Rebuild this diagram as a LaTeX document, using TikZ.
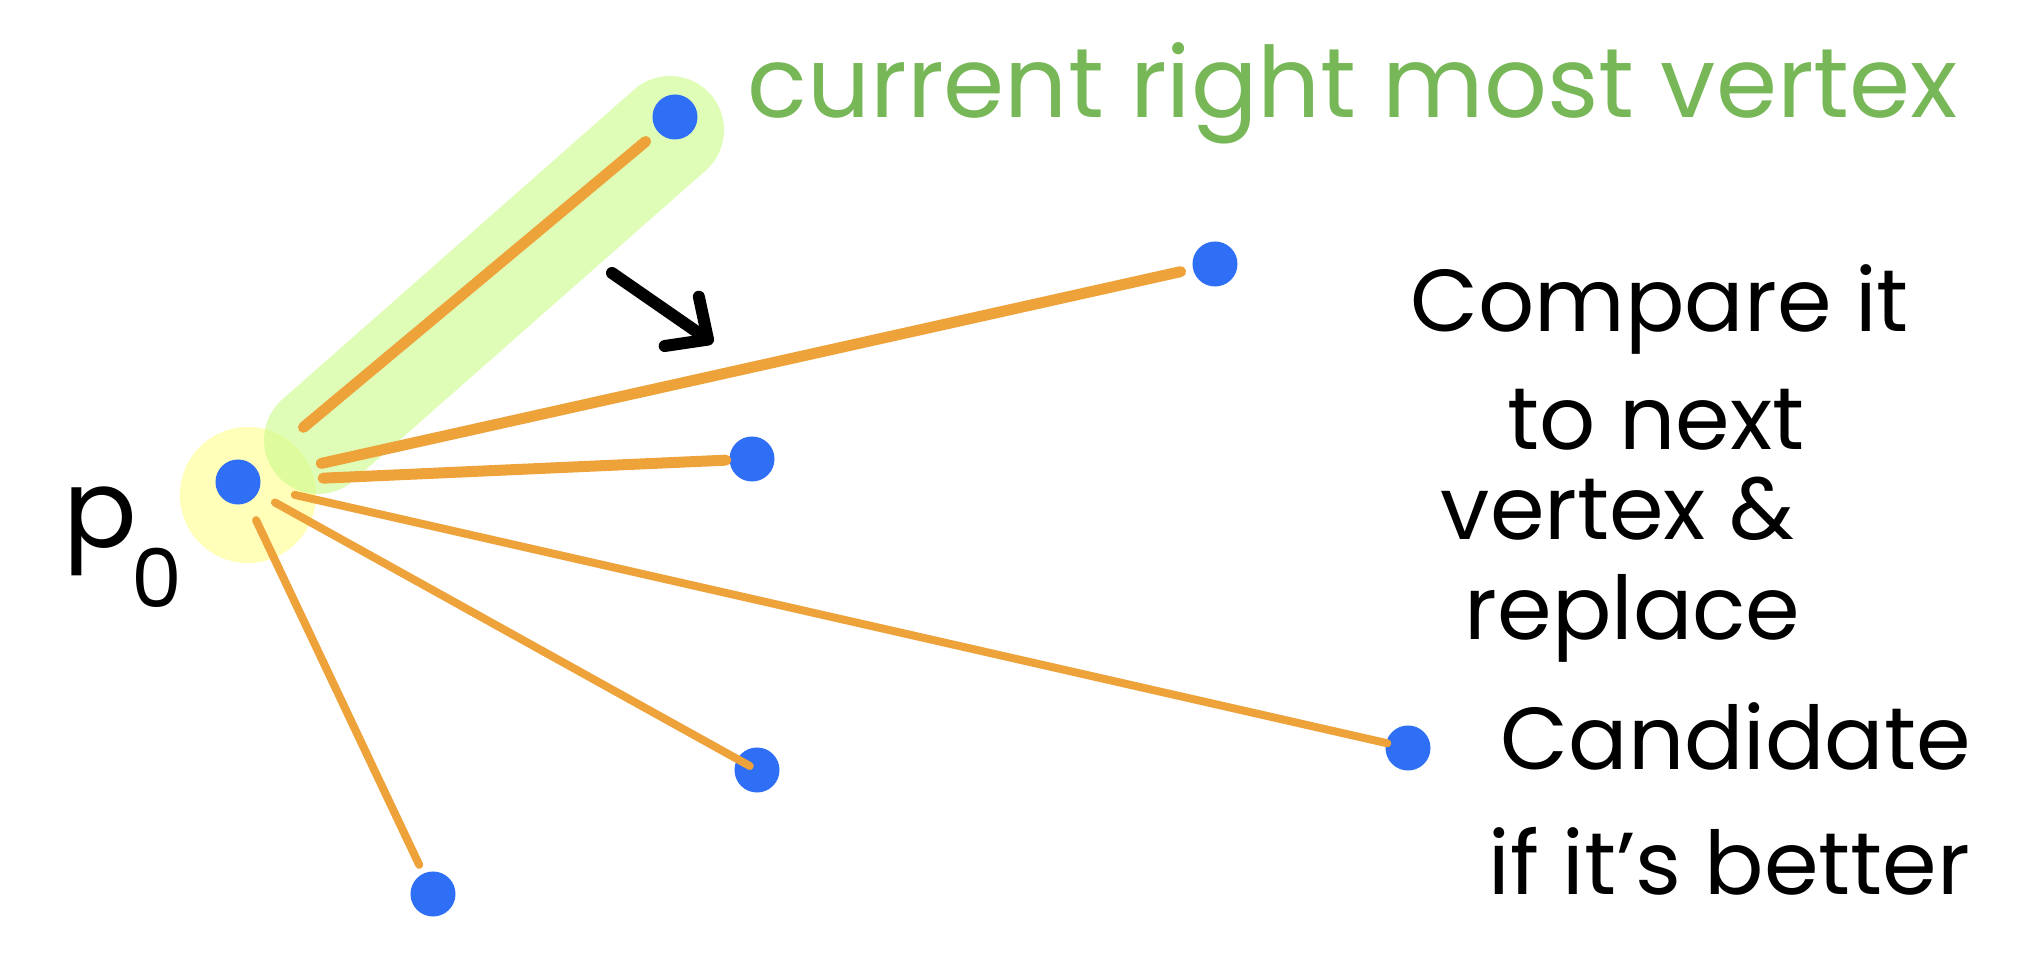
\documentclass[tikz,border=0pt]{standalone}
\usepackage{fontspec}
\setmainfont{Poppins}
\usetikzlibrary{arrows.meta,positioning}
\definecolor{dotblue}{RGB}{47,111,245}
\definecolor{rayorange}{RGB}{237,162,58}
\definecolor{hlgreen}{RGB}{203,252,137}
\definecolor{hlyellow}{RGB}{255,255,138}
\definecolor{notegreen}{RGB}{119,183,87}

\begin{document}
\begin{tikzpicture}[
                x=0.01cm,
                y=-0.01cm,
                dot/.style={circle,fill=dotblue,inner sep=0pt,minimum size=0.45cm},
                ray/.style={draw=rayorange,line width=0.11cm,line cap=round},
                thinray/.style={ray,line width=0.08cm},
                hint/.style={draw=black,line width=0.12cm,line cap=round,
                    -{Straight Barb[length=0.32cm,width=0.6cm,line cap=round,line join=round]}},
                note/.style={anchor=base west,inner sep=0pt,font=\fontsize{25}{28}\selectfont}]
            \useasboundingbox (0,0) rectangle (2020,980);
            \fill[hlyellow,opacity=0.6] (248,495) circle[radius=0.68cm];
            \draw[hlgreen,opacity=0.6,line width=1.08cm,line cap=round] (318,440) -- (670,130);
            \node[dot] (p0) at (238,482) {};
            \node[dot] (v1) at (675,117) {};
            \node[dot] (v2) at (1215,264) {};
            \node[dot] (v3) at (752,459) {};
            \node[dot] (v4) at (1408,748) {};
            \node[dot] (v5) at (757,770) {};
            \node[dot] (v6) at (433,894) {};
            \path[ray]
            (p0) edge[shorten <=0.62cm,shorten >=0.15cm] (v1)
            edge[shorten <=0.62cm,shorten >=0.12cm] (v2)
            edge[shorten <=0.62cm,shorten >=0.03cm] (v3)
            ;
            \path[thinray]
            (p0) edge[shorten <=0.35cm,shorten >=-0.02cm] (v4)
            edge[shorten <=0.19cm,shorten >=-0.15cm] (v5)
            edge[shorten <=0.19cm,shorten >=0.09cm] (v6)
            ;
            \coordinate (hintstart) at (612,273);
            \coordinate (hintend) at (713,343);
            \draw[hint] (hintstart) -- (hintend);
            \node[note,text=notegreen,font=\fontsize{28}{32}\selectfont] (current) at (747,118) {current right most vertex};
            \node[note] (compare) at (1410,332) {Compare it};
            \node[note] (tonext) at (1507,450) {to next};
            \node[note] (vertexamp) at (1440,540) {vertex \&};
            \node[note] (replace) at (1464,640) {replace};
            \node[note] (candidate) at (1500,770) {Candidate};
            \node[note] (better) at (1488,895) {if it's better};
            \node[note,font=\fontsize{31}{34}\selectfont] (p0label) at (63,548) {p\kern-0.05em\raisebox{-1.0ex}{\fontsize{23}{26}\selectfont 0}};
        \end{tikzpicture}
\end{document}
